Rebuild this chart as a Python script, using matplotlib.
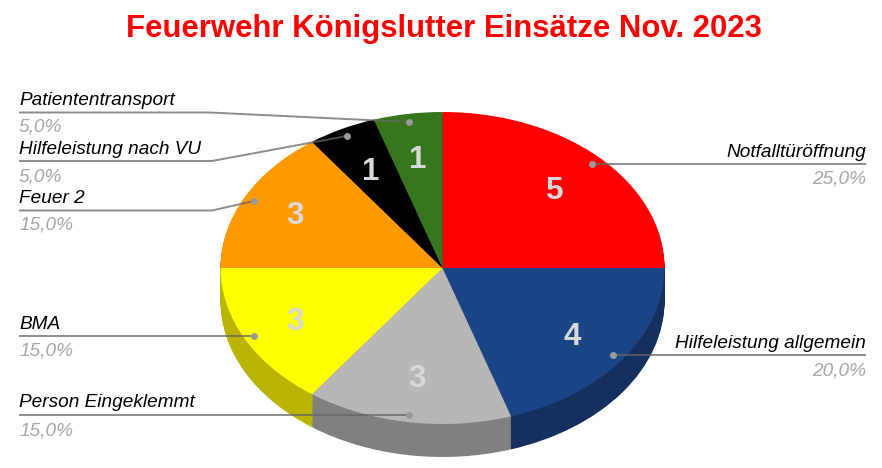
import matplotlib
matplotlib.use("Agg")
import matplotlib.pyplot as plt

plt.rcParams['font.family'] = ['Liberation Sans', 'DejaVu Sans']

# Data
categories = ["Notfalltüröffnung", "Hilfeleistung allgemein", "Person Eingeklemmt", "BMA",
              "Feuer 2", "Hilfeleistung nach VU", "Patiententransport"]
values = [5, 4, 3, 3, 3, 1, 1]
percent_labels = ["25,0%", "20,0%", "15,0%", "15,0%", "15,0%", "5,0%", "5,0%"]
top_colours = ["#ff0000", "#1c4587", "#b7b7b7", "#ffff00", "#ff9900", "#000000", "#38761d"]
side_colours = ["#b80000", "#152f5f", "#808080", "#b8b400", "#b86e00", "#000000", "#28551a"]

# Pie geometry in pixels
W, H = 882, 468
cx, cy, rx, ry, depth = 442.5, 268, 222, 156, 33

# Label layout in pixels: text x, alignment, name baseline, percent baseline, leader points
layout = [
    (866, "right", 157, 184, [(866, 164), (592, 164)]),
    (866, "right", 348, 376, [(866, 355), (613, 355)]),
    (19, "left", 407, 435, [(19, 414.5), (409, 414.5)]),
    (19, "left", 329, 356, [(19, 335.5), (254, 335.5)]),
    (19, "left", 203, 230, [(19, 210.5), (212, 210.5), (254, 201)]),
    (19, "left", 154, 181, [(19, 161), (212, 161), (347, 136)]),
    (19, "left", 105, 132, [(19, 112.5), (210, 112.5), (409, 122)]),
]
value_pos = [(555, 191), (572, 337), (417, 379), (295, 322), (295, 216), (371, 172), (418, 160)]

fig = plt.figure(figsize=(W / 100, H / 100), dpi=100, facecolor="white")

# Pie, squashed into an ellipse by the axis limits
ax = fig.add_axes([0, 0, 1, 1])
for off in range(depth, 0, -1):
    ax.pie(values, colors=side_colours, startangle=90, counterclock=False,
           center=(0, -off / ry), wedgeprops={"linewidth": 0})
ax.pie(values, colors=top_colours, startangle=90, counterclock=False,
       center=(0, 0), wedgeprops={"linewidth": 0})
ax.set_aspect("auto")
ax.set_xlim(-cx / rx, (W - cx) / rx)
ax.set_ylim((cy - H) / ry, cy / ry)
ax.axis("off")

# Overlay in pixel coordinates for the text and leader lines
ov = fig.add_axes([0, 0, 1, 1], facecolor="none")
ov.set_xlim(0, W)
ov.set_ylim(H, 0)
ov.axis("off")

ov.text(443.5, 37, "Feuerwehr Königslutter Einsätze Nov. 2023", color="#ff0000",
        fontsize=22.4, fontweight="bold", ha="center", va="baseline")

for name, pct, val, (tx, ha, y1, y2, pts), (vx, vy) in zip(categories, percent_labels, values, layout, value_pos):
    ov.text(tx, y1, name, color="black", fontsize=13.7, fontstyle="italic", ha=ha, va="baseline")
    ov.text(tx, y2, pct, color="#a6a6a6", fontsize=13.7, fontstyle="italic", ha=ha, va="baseline")
    xs = [p[0] for p in pts]
    ys = [p[1] for p in pts]
    ov.plot(xs, ys, color="#666666", alpha=0.75, linewidth=1.4, solid_capstyle="butt")
    ov.plot(xs[-1], ys[-1], "o", color="#999999", markersize=5, markeredgewidth=0)
    ov.text(vx, vy, str(val), color="#d9d9d9", fontsize=22.5, fontweight="bold", ha="center", va="center")

fig.savefig("out.png", dpi=100)
